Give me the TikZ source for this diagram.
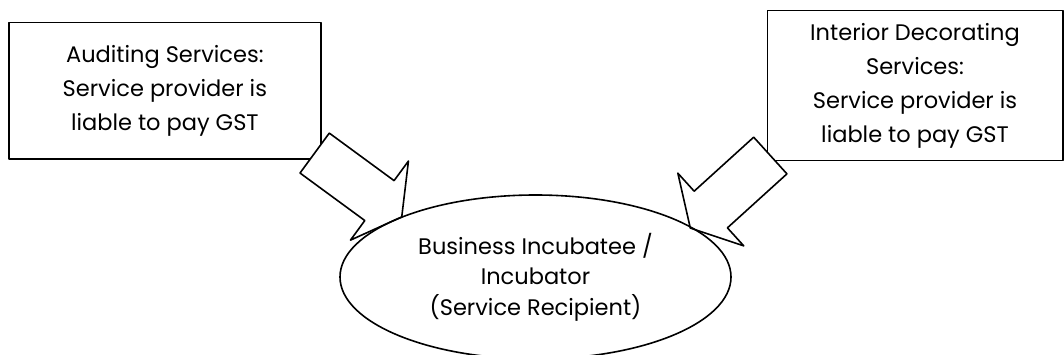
\documentclass[tikz,border=0pt]{standalone}
\usepackage{fontspec}
\setmainfont{Poppins}
\usetikzlibrary{shapes.geometric,shapes.arrows,calc}
\tikzset{
  servicebox/.style={draw, rectangle, align=center, inner sep=0pt, font=\fontsize{22.5}{34}\selectfont},
  blockarrow/.style={draw, fill=white, single arrow, inner sep=0pt, minimum height=108pt,
    single arrow head extend=24.3pt, single arrow tip angle=121.2, anchor=tail}
}
\begin{document}
\begin{tikzpicture}[x=1pt, y=-1pt, line join=round, line width=1.6pt]
  \useasboundingbox (0,0) rectangle (1064,355);
  \node[servicebox, minimum width=311.7pt, minimum height=136.6pt] (audit) at (164.85,91) {Auditing Services:\\Service provider is\\liable to pay GST};
  \node[servicebox, minimum width=295.4pt, minimum height=150pt] (decor) at (915,85.7) {Interior Decorating\\Services:\\Service provider is\\liable to pay GST};
  \node[blockarrow, rotate=-36.25] (auditarrow) at ($(audit.south east)+(-7.5,-7.5)$) {\rule{0pt}{47.9pt}};
  \node[blockarrow, rotate=-137.8] (decorarrow) at ($(decor.south west)+(4.4,-6.5)$) {\rule{0pt}{47.9pt}};
  \node[draw, ellipse, minimum width=391pt, minimum height=164pt, inner sep=0pt, align=center,
    font=\fontsize{22.5}{30.5}\selectfont] (recipient) at (535.5,277) {Business Incubatee /\\Incubator\\(Service Recipient)};
\end{tikzpicture}
\end{document}
